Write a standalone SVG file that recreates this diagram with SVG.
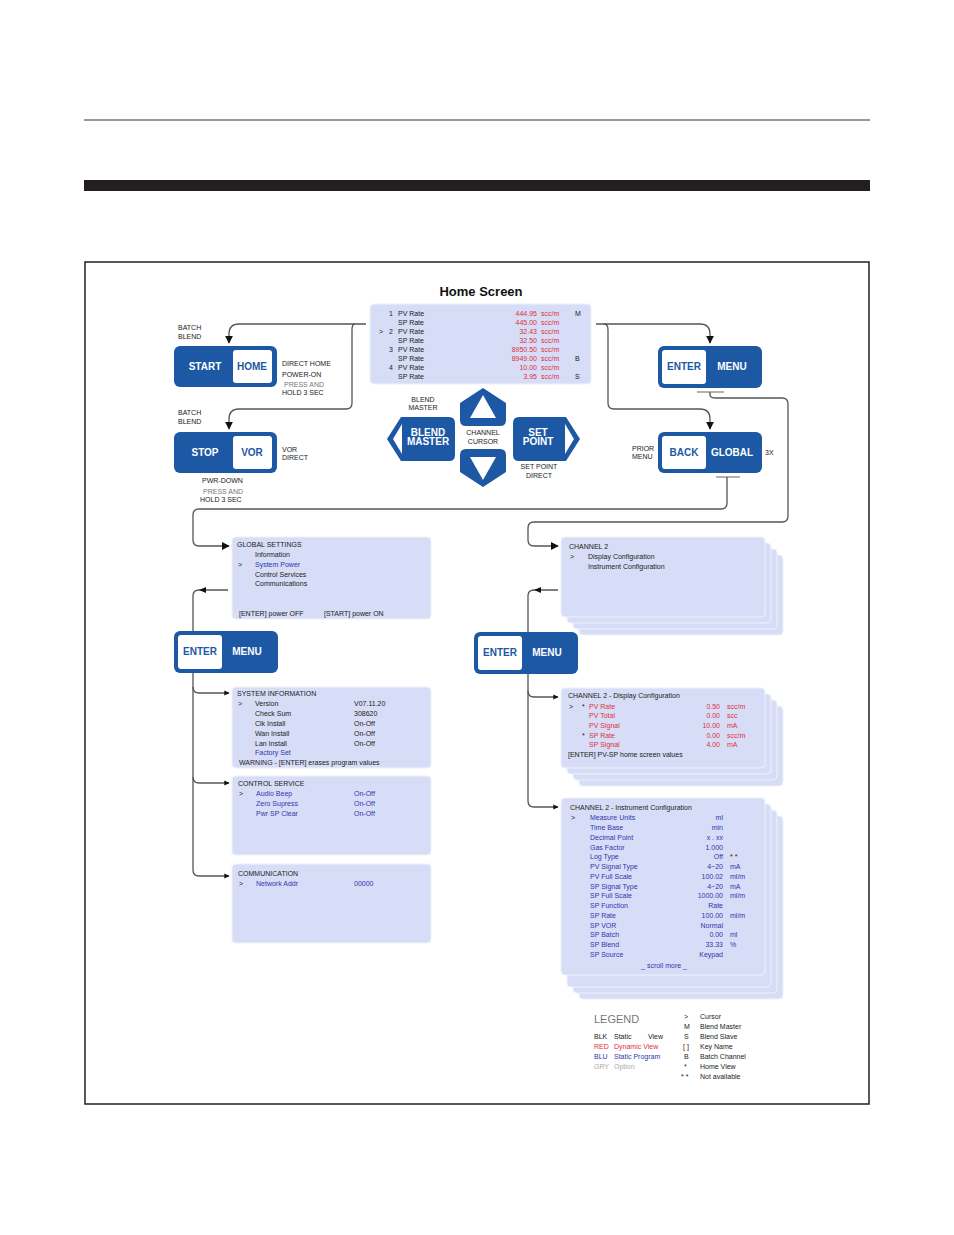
<svg xmlns="http://www.w3.org/2000/svg" width="954" height="1235" viewBox="0 0 954 1235">
<defs>
<marker id="ar" viewBox="0 0 10 10" refX="9" refY="5" markerWidth="6" markerHeight="6" orient="auto"><path d="M0,0 L10,5 L0,10 z" fill="#111"/></marker>
<marker id="as" viewBox="0 0 10 10" refX="9" refY="5" markerWidth="4" markerHeight="4" orient="auto"><path d="M0,0 L10,5 L0,10 z" fill="#111"/></marker>
</defs>
<style>
text{font-family:"Liberation Sans",Arial,sans-serif}
.pan{fill:#d7ddf6;stroke:#eef1fb;stroke-width:1}
.btn{fill:#1c58a4}
.wb{fill:#fff}
.bt{fill:#fff;font-weight:bold;font-size:10px;text-anchor:middle}
.btb{fill:#1c58a4;font-weight:bold;font-size:10px;text-anchor:middle}
.s{font-size:7px;fill:#222}
.g{font-size:7px;fill:#777}
.b{font-size:7px;fill:#3035b0}
.r{font-size:7px;fill:#e0303a}
.e{text-anchor:end}
.m{text-anchor:middle}
.ln{fill:none;stroke:#555;stroke-width:1.3}
</style>
<rect width="954" height="1235" fill="#fff"/>
<line x1="84" y1="120" x2="870" y2="120" stroke="#333" stroke-width="1"/>
<rect x="84" y="180" width="786" height="11" fill="#231f20"/>
<rect x="85" y="262" width="784" height="842" fill="none" stroke="#231f20" stroke-width="1.5"/>

<g id="connectors">
<path class="ln" d="M366,324 H239 Q229,324 229,334 V343" marker-end="url(#ar)"/>
<path class="ln" d="M355,324 Q352,324 352,330 V403 Q352,409 346,409 H239 Q229,409 229,419 V429" marker-end="url(#ar)"/>
<path class="ln" d="M596,324 H700 Q710,324 710,334 V343" marker-end="url(#ar)"/>
<path class="ln" d="M604,324 Q608,324 608,330 V403 Q608,409 614,409 H700 Q710,409 710,419 V429" marker-end="url(#ar)"/>
<line x1="697" y1="392" x2="724" y2="392" stroke="#999" stroke-width="1.5"/>
<line x1="716" y1="477" x2="740" y2="477" stroke="#999" stroke-width="1.5"/>
<path class="ln" d="M710,392 V395 Q710,398 716,398 H782 Q788,398 788,404 V516 Q788,522 782,522 H534 Q528,522 528,528 V540 Q528,546 534,546 H558" marker-end="url(#ar)"/>
<path class="ln" d="M727,477 V503 Q727,509 721,509 H199 Q193,509 193,515 V540 Q193,546 199,546 H229" marker-end="url(#ar)"/>
<path class="ln" d="M193,631 V596 Q193,590 199,590 H228"/>
<path d="M206,587 L199,590 L206,593 z" fill="#111"/>
<path class="ln" d="M193,673 V870 Q193,876 199,876 H229" marker-end="url(#as)"/>
<path class="ln" d="M193,687 Q193,693 199,693 H229" marker-end="url(#as)"/>
<path class="ln" d="M193,777 Q193,783 199,783 H229" marker-end="url(#as)"/>
<path class="ln" d="M528,632 V596 Q528,590 534,590 H558"/>
<path d="M541,587 L534,590 L541,593 z" fill="#111"/>
<path class="ln" d="M528,674 V801 Q528,807 534,807 H558" marker-end="url(#as)"/>
<path class="ln" d="M528,691 Q528,697 534,697 H558" marker-end="url(#as)"/>
</g>

<g id="home-screen">
<text x="481" y="296" font-size="13" font-weight="bold" text-anchor="middle" fill="#111">Home Screen</text>
<rect class="pan" x="370" y="304" width="221" height="80" rx="4"/>
<g class="s">
<text x="389" y="316">1</text><text x="398" y="316">PV Rate</text><text x="398" y="325">SP Rate</text>
<text x="379" y="334">&gt;</text><text x="389" y="334">2</text><text x="398" y="334">PV Rate</text><text x="398" y="343">SP Rate</text>
<text x="389" y="352">3</text><text x="398" y="352">PV Rate</text><text x="398" y="361">SP Rate</text>
<text x="389" y="370">4</text><text x="398" y="370">PV Rate</text><text x="398" y="379">SP Rate</text>
<text x="575" y="316">M</text><text x="575" y="361">B</text><text x="575" y="379">S</text>
</g>
<g class="r">
<text x="537" y="316" class="e">444.95</text><text x="537" y="325" class="e">445.00</text>
<text x="537" y="334" class="e">32.43</text><text x="537" y="343" class="e">32.50</text>
<text x="537" y="352" class="e">8950.50</text><text x="537" y="361" class="e">8949.00</text>
<text x="537" y="370" class="e">10.00</text><text x="537" y="379" class="e">3.95</text>
<text x="541" y="316">scc/m</text><text x="541" y="325">scc/m</text><text x="541" y="334">scc/m</text><text x="541" y="343">scc/m</text>
<text x="541" y="352">scc/m</text><text x="541" y="361">scc/m</text><text x="541" y="370">scc/m</text><text x="541" y="379">scc/m</text>
</g>
</g>

<g id="start-home">
<text class="s" x="178" y="330">BATCH</text><text class="s" x="178" y="339">BLEND</text>
<rect class="btn" x="174" y="346" width="103" height="41" rx="6"/>
<rect class="wb" x="233" y="350" width="39" height="33" rx="3"/>
<text class="bt" x="205" y="370">START</text><text class="btb" x="252" y="370">HOME</text>
<text class="s" x="282" y="366">DIRECT HOME</text><text class="s" x="282" y="377">POWER-ON</text>
<text class="g" x="284" y="387">PRESS AND</text><text class="s" x="282" y="395">HOLD 3 SEC</text>
</g>
<g id="stop-vor">
<text class="s" x="178" y="415">BATCH</text><text class="s" x="178" y="424">BLEND</text>
<rect class="btn" x="174" y="432" width="103" height="41" rx="6"/>
<rect class="wb" x="233" y="436" width="39" height="33" rx="3"/>
<text class="bt" x="205" y="456">STOP</text><text class="btb" x="252" y="456">VOR</text>
<text class="s" x="282" y="452">VOR</text><text class="s" x="282" y="460">DIRECT</text>
<text class="s" x="202" y="483">PWR-DOWN</text>
<text class="g" x="203" y="494">PRESS AND</text><text class="s" x="200" y="502">HOLD 3 SEC</text>
</g>

<g id="nav-pad">
<path class="btn" d="M483,388 L506,403 V420 Q506,426 500,426 H466 Q460,426 460,420 V403 z"/>
<path d="M483,395 L496,418 H470 z" fill="#fff"/>
<path class="btn" d="M483,487 L506,472 V455 Q506,449 500,449 H466 Q460,449 460,455 V472 z"/>
<path d="M483,480 L496,457 H470 z" fill="#fff"/>
<path class="btn" d="M387,439 L401,417 H449 Q455,417 455,423 V455 Q455,461 449,461 H401 z"/>
<path d="M393,439 L402,424 V454 z" fill="#fff"/>
<text class="bt" x="428" y="436" font-size="8">BLEND</text><text class="bt" x="428" y="445" font-size="8">MASTER</text>
<path class="btn" d="M580,439 L566,417 H519 Q513,417 513,423 V455 Q513,461 519,461 H566 z"/>
<path d="M574,439 L565,424 V454 z" fill="#fff"/>
<text class="bt" x="538" y="436" font-size="8">SET</text><text class="bt" x="538" y="445" font-size="8">POINT</text>
<text class="s m" x="423" y="402">BLEND</text><text class="s m" x="423" y="410">MASTER</text>
<text class="s m" x="483" y="435">CHANNEL</text><text class="s m" x="483" y="444">CURSOR</text>
<text class="s m" x="539" y="469">SET POINT</text><text class="s m" x="539" y="478">DIRECT</text>
</g>

<g id="enter-menu-top">
<rect class="btn" x="658" y="346" width="104" height="42" rx="6"/>
<rect class="wb" x="662" y="350" width="44" height="34" rx="3"/>
<text class="btb" x="684" y="370">ENTER</text><text class="bt" x="732" y="370">MENU</text>
</g>
<g id="back-global">
<rect class="btn" x="658" y="432" width="104" height="41" rx="6"/>
<rect class="wb" x="662" y="436" width="44" height="33" rx="3"/>
<text class="btb" x="684" y="456">BACK</text><text class="bt" x="732" y="456">GLOBAL</text>
<text class="s" x="632" y="451">PRIOR</text><text class="s" x="632" y="459">MENU</text>
<text class="s" x="765" y="455">3X</text>
</g>

<g id="global-settings">
<rect class="pan" x="232" y="537" width="199" height="82" rx="4"/>
<text class="s" x="237" y="547">GLOBAL SETTINGS</text>
<text class="s" x="255" y="557">Information</text>
<text class="s" x="238" y="567">&gt;</text><text class="b" x="255" y="567">System Power</text>
<text class="s" x="255" y="577">Control Services</text>
<text class="s" x="255" y="586">Communications</text>
<text class="s" x="239" y="616">[ENTER] power OFF</text><text class="s" x="324" y="616">[START] power ON</text>
</g>
<g id="enter-menu-left">
<rect class="btn" x="174" y="631" width="104" height="42" rx="6"/>
<rect class="wb" x="178" y="635" width="44" height="34" rx="3"/>
<text class="btb" x="200" y="655">ENTER</text><text class="bt" x="247" y="655">MENU</text>
</g>
<g id="system-information">
<rect class="pan" x="232" y="687" width="199" height="81" rx="4"/>
<text class="s" x="237" y="696">SYSTEM INFORMATION</text>
<text class="s" x="238" y="706">&gt;</text>
<text class="s" x="255" y="706">Version</text><text class="s" x="255" y="716">Check Sum</text><text class="s" x="255" y="726">Clk Install</text><text class="s" x="255" y="736">Wan Install</text><text class="s" x="255" y="746">Lan Install</text>
<text class="b" x="255" y="755">Factory Set</text>
<text class="s" x="354" y="706">V07.11.20</text><text class="s" x="354" y="716">308620</text><text class="s" x="354" y="726">On-Off</text><text class="s" x="354" y="736">On-Off</text><text class="s" x="354" y="746">On-Off</text>
<text class="s" x="239" y="765">WARNING - [ENTER] erases program values</text>
</g>
<g id="control-service">
<rect class="pan" x="232" y="776" width="199" height="79" rx="4"/>
<text class="s" x="238" y="786">CONTROL SERVICE</text>
<text class="s" x="239" y="796">&gt;</text>
<text class="b" x="256" y="796">Audio Beep</text><text class="b" x="256" y="806">Zero Supress</text><text class="b" x="256" y="816">Pwr SP Clear</text>
<text class="b" x="354" y="796">On-Off</text><text class="b" x="354" y="806">On-Off</text><text class="b" x="354" y="816">On-Off</text>
</g>
<g id="communication">
<rect class="pan" x="232" y="864" width="199" height="79" rx="4"/>
<text class="s" x="238" y="876">COMMUNICATION</text>
<text class="s" x="239" y="886">&gt;</text><text class="b" x="256" y="886">Network Addr</text><text class="b" x="354" y="886">00000</text>
</g>

<g id="channel2">
<rect class="pan" x="579" y="555" width="204" height="80" rx="4"/>
<rect class="pan" x="573" y="549" width="204" height="80" rx="4"/>
<rect class="pan" x="567" y="543" width="204" height="80" rx="4"/>
<rect class="pan" x="561" y="537" width="204" height="80" rx="4"/>
<text class="s" x="569" y="549">CHANNEL 2</text>
<text class="s" x="570" y="559">&gt;</text><text class="s" x="588" y="559">Display Configuration</text>
<text class="s" x="588" y="569">Instrument Configuration</text>
</g>
<g id="enter-menu-right">
<rect class="btn" x="474" y="632" width="104" height="42" rx="6"/>
<rect class="wb" x="478" y="636" width="44" height="34" rx="3"/>
<text class="btb" x="500" y="656">ENTER</text><text class="bt" x="547" y="656">MENU</text>
</g>
<g id="display-config">
<rect class="pan" x="579" y="706" width="204" height="80" rx="4"/>
<rect class="pan" x="573" y="700" width="204" height="80" rx="4"/>
<rect class="pan" x="567" y="694" width="204" height="80" rx="4"/>
<rect class="pan" x="561" y="688" width="204" height="80" rx="4"/>
<text class="s" x="568" y="698">CHANNEL 2 - Display Configuration</text>
<text class="s" x="569" y="709">&gt;</text><text class="s" x="582" y="709">*</text><text class="r" x="589" y="709">PV Rate</text>
<text class="r" x="589" y="718">PV Total</text><text class="r" x="589" y="728">PV Signal</text>
<text class="s" x="582" y="738">*</text><text class="r" x="589" y="738">SP Rate</text><text class="r" x="589" y="747">SP Signal</text>
<g class="r"><text x="720" y="709" class="e">0.50</text><text x="720" y="718" class="e">0.00</text><text x="720" y="728" class="e">10.00</text><text x="720" y="738" class="e">0.00</text><text x="720" y="747" class="e">4.00</text>
<text x="727" y="709">scc/m</text><text x="727" y="718">scc</text><text x="727" y="728">mA</text><text x="727" y="738">scc/m</text><text x="727" y="747">mA</text></g>
<text class="s" x="568" y="757">[ENTER] PV-SP home screen values</text>
</g>
<g id="instrument-config">
<rect class="pan" x="579" y="816" width="204" height="183" rx="4"/>
<rect class="pan" x="573" y="810" width="204" height="183" rx="4"/>
<rect class="pan" x="567" y="804" width="204" height="183" rx="4"/>
<rect class="pan" x="561" y="798" width="204" height="177" rx="4"/>
<text class="s" x="570" y="810">CHANNEL 2 - Instrument Configuration</text>
<text class="s" x="571" y="820">&gt;</text>
<g class="b">
<text x="590" y="820">Measure Units</text><text x="590" y="830">Time Base</text><text x="590" y="840">Decimal Point</text><text x="590" y="850">Gas Factor</text><text x="590" y="859">Log Type</text><text x="590" y="869">PV Signal Type</text><text x="590" y="879">PV Full Scale</text><text x="590" y="889">SP Signal Type</text><text x="590" y="898">SP Full Scale</text><text x="590" y="908">SP Function</text><text x="590" y="918">SP Rate</text><text x="590" y="928">SP VOR</text><text x="590" y="937">SP Batch</text><text x="590" y="947">SP Blend</text><text x="590" y="957">SP Source</text>
<text x="723" y="820" class="e">ml</text><text x="723" y="830" class="e">min</text><text x="723" y="840" class="e">x . xx</text><text x="723" y="850" class="e">1.000</text><text x="723" y="859" class="e">Off</text><text x="723" y="869" class="e">4~20</text><text x="723" y="879" class="e">100.02</text><text x="723" y="889" class="e">4~20</text><text x="723" y="898" class="e">1000.00</text><text x="723" y="908" class="e">Rate</text><text x="723" y="918" class="e">100.00</text><text x="723" y="928" class="e">Normal</text><text x="723" y="937" class="e">0.00</text><text x="723" y="947" class="e">33.33</text><text x="723" y="957" class="e">Keypad</text>
<text x="730" y="869">mA</text><text x="730" y="879">ml/m</text><text x="730" y="889">mA</text><text x="730" y="898">ml/m</text><text x="730" y="918">ml/m</text><text x="730" y="937">ml</text><text x="730" y="947">%</text>
<text x="664" y="968" class="m">_ scroll more _</text>
</g>
<text class="s" x="730" y="859">* *</text>
</g>

<g id="legend">
<text x="594" y="1023" font-size="11" fill="#777">LEGEND</text>
<text class="s" x="594" y="1039">BLK</text><text class="s" x="614" y="1039">Static</text><text class="s" x="648" y="1039">View</text>
<text class="r" x="594" y="1049">RED</text><text class="r" x="614" y="1049">Dynamic View</text>
<text class="b" x="594" y="1059">BLU</text><text class="b" x="614" y="1059">Static Program</text>
<text x="594" y="1069" font-size="7" fill="#aaa">GRY</text><text x="614" y="1069" font-size="7" fill="#aaa">Option</text>
<g class="s">
<text x="684" y="1019">&gt;</text><text x="700" y="1019">Cursor</text>
<text x="684" y="1029">M</text><text x="700" y="1029">Blend Master</text>
<text x="684" y="1039">S</text><text x="700" y="1039">Blend Slave</text>
<text x="683" y="1049">[ ]</text><text x="700" y="1049">Key Name</text>
<text x="684" y="1059">B</text><text x="700" y="1059">Batch Channel</text>
<text x="684" y="1069">*</text><text x="700" y="1069">Home View</text>
<text x="681" y="1079">* *</text><text x="700" y="1079">Not available</text>
</g>
</g>
</svg>
